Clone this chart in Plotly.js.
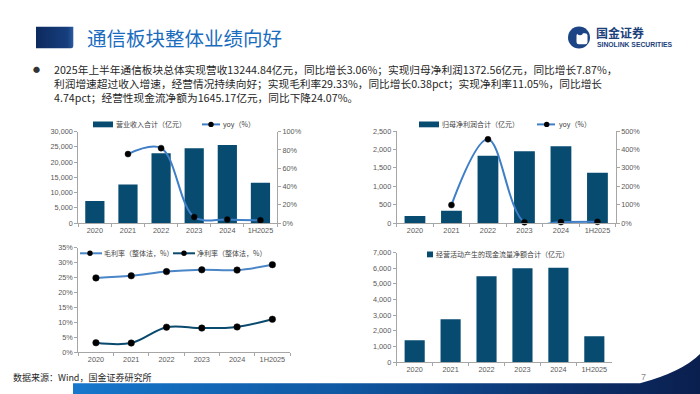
<!DOCTYPE html>
<html>
<head>
<meta charset="utf-8">
<script src="https://cdn.plot.ly/plotly-3.0.1.min.js"></script>
<style>
html,body{margin:0;padding:0;background:#fff;}
#chart{width:700px;height:394px;}
</style>
</head>
<body>
<div id="chart"></div>
<script>
// ---------- data ----------
const years = ['2020', '2021', '2022', '2023', '2024', '1H2025'];
const revenue = [7200, 12650, 22900, 24550, 25640, 13244.84];
const revenueYoy = [null, 75.5, 82, 6.5, 3.8, 3.06];
const profit = [199, 343, 1832, 1949, 2085, 1372.56];
const profitYoy = [null, 99, 455, 5.5, 6.5, 7.87];
const grossMargin = [24.9, 25.6, 27.0, 27.6, 27.5, 29.33];
const netMargin = [3.2, 3.1, 8.4, 8.1, 8.5, 11.05];
const cashFlow = [1387, 2732, 5485, 5997, 6040, 1645.17];

const titleText = '通信板块整体业绩向好';
const bodyLines = [
  '2025年上半年通信板块总体实现营收13244.84亿元，同比增长3.06%；实现归母净利润1372.56亿元，同比增长7.87%，',
  '利润增速超过收入增速，经营情况持续向好；实现毛利率29.33%，同比增长0.38pct；实现净利率11.05%，同比增长',
  '4.74pct；经营性现金流净额为1645.17亿元，同比下降24.07%。'
];
const legendRevenue = '营业收入合计（亿元）';
const legendProfit = '归母净利润合计（亿元）';
const legendYoy = 'yoy（%）';
const legendGross = '毛利率（整体法，%）';
const legendNet = '净利率（整体法，%）';
const legendCash = '经营活动产生的现金流量净额合计（亿元）';
const sourceText = '数据来源：Wind，国金证券研究所';

// ---------- styles ----------
const W = 700, H = 394;
const px = x => x / W;
const py = y => 1 - y / H;
const BAR = '#074b70';
const YOY = '#3f7fc8';
const GROSS = '#4a86c8';
const NET = '#0a4a6e';
const CJK = '"Noto Sans CJK SC", sans-serif';
const LAT = '"Liberation Sans", Arial, sans-serif';
const tickFont = {family: LAT, size: 7.3, color: '#595959'};

function lineTrace(y, xa, ya, color) {
  return {type: 'scatter', mode: 'lines', x: years, y: y, xaxis: xa, yaxis: ya,
    line: {color: color, width: 2, shape: 'spline', smoothing: 1}, connectgaps: false,
    hoverinfo: 'skip', showlegend: false};
}
function markerTrace(y, xa, ya, size) {
  return {type: 'scatter', mode: 'markers', x: years, y: y, xaxis: xa, yaxis: ya,
    marker: {color: '#000', size: size, line: {color: '#111', width: 0.5}},
    cliponaxis: false, hoverinfo: 'skip', showlegend: false};
}
function barTrace(y, xa, ya, w) {
  return {type: 'bar', x: years, y: y, xaxis: xa, yaxis: ya, width: w,
    marker: {color: BAR}, hoverinfo: 'skip', showlegend: false};
}

const data = [
  barTrace(revenue, 'x', 'y', 0.58),
  lineTrace(revenueYoy, 'x', 'y2', YOY),
  markerTrace(revenueYoy, 'x', 'y2', 6),
  barTrace(profit, 'x2', 'y3', 0.57),
  lineTrace(profitYoy, 'x2', 'y4', YOY),
  markerTrace(profitYoy, 'x2', 'y4', 6),
  lineTrace(grossMargin, 'x3', 'y5', GROSS),
  markerTrace(grossMargin, 'x3', 'y5', 6.5),
  lineTrace(netMargin, 'x3', 'y5', NET),
  markerTrace(netMargin, 'x3', 'y5', 6.5),
  barTrace(cashFlow, 'x4', 'y6', 0.56)
];

const axBase = {showline: true, linecolor: '#a6a6a6', linewidth: 1, showgrid: false, zeroline: false,
  ticks: 'outside', ticklen: 3, tickcolor: '#a6a6a6', tickfont: tickFont, fixedrange: true};
function xAx(d0, d1, anchor) {
  return Object.assign({}, axBase, {type: 'category', domain: [px(d0), px(d1)], anchor: anchor,
    range: [-0.5, 5.5], tickson: 'boundaries', tickangle: 0});
}
function yAx(top, bottom, anchor, range, dtick, extra) {
  return Object.assign({}, axBase, {domain: [py(bottom), py(top)], anchor: anchor,
    range: range, dtick: dtick, tick0: 0}, extra || {});
}

// ---------- manual legends & decorations ----------
const shapes = [];
const annotations = [];
function ann(text, x, y, size, color, family, xanchor) {
  annotations.push({text: text, x: px(x), y: py(y), xref: 'paper', yref: 'paper',
    xanchor: xanchor || 'left', yanchor: 'middle', showarrow: false, align: 'left', borderpad: 0,
    font: {size: size, color: color, family: family}});
}
function rectLeg(x0, x1, y0, y1, color) {
  shapes.push({type: 'rect', xref: 'paper', yref: 'paper', x0: px(x0), x1: px(x1), y0: py(y1), y1: py(y0),
    fillcolor: color, line: {width: 0}});
}
function lineLeg(x0, x1, y, color, mx) {
  shapes.push({type: 'line', xref: 'paper', yref: 'paper', x0: px(x0), x1: px(x1), y0: py(y), y1: py(y),
    line: {color: color, width: 2}});
  const r = 2.7;
  shapes.push({type: 'circle', xref: 'paper', yref: 'paper', x0: px(mx - r), x1: px(mx + r),
    y0: py(y + r), y1: py(y - r), fillcolor: '#000', line: {width: 0}});
}
const legC = '#404040';
// chart 1
rectLeg(93, 113, 121.5, 127.3, BAR);
ann(legendRevenue, 115, 124.4, 7, legC, CJK);
lineLeg(202, 220, 124.4, YOY, 211);
ann(legendYoy, 222, 124.4, 7, legC, CJK);
// chart 2
rectLeg(419, 439, 121.5, 127.3, BAR);
ann(legendProfit, 441, 124.4, 7, legC, CJK);
lineLeg(537, 555, 124.4, YOY, 546.7);
ann(legendYoy, 558, 124.4, 7, legC, CJK);
// chart 3
lineLeg(80, 102, 253.3, GROSS, 90);
ann(legendGross, 103, 253.3, 7, legC, CJK);
lineLeg(173, 195, 253.3, NET, 184);
ann(legendNet, 196, 253.3, 7, legC, CJK);
// chart 4
rectLeg(427, 433, 251.5, 257.3, BAR);
ann(legendCash, 435, 254.4, 7, legC, CJK);

// header and body text
ann(titleText, 86, 37, 19.5, '#1a6cbf', CJK);
ann('<b>国金证券</b>', 595, 32.3, 12, '#1d3f7c', CJK);
ann('<b>SINOLINK SECURITIES</b>', 595.5, 44.3, 6.8, '#1d3f7c', LAT);
ann('●', 36.7, 69.3, 7, '#333', CJK, 'center');
ann(bodyLines.join('<br>'), 53, 83.5, 10.7, '#262626', CJK);
ann(sourceText, 12, 377.5, 9, '#262626', CJK);
ann('7', 643, 376.5, 9, '#8c8c8c', LAT, 'center');

// decorative background (header block, bottom band, logo icon)
const svg = '<svg xmlns="http://www.w3.org/2000/svg" width="700" height="394" viewBox="0 0 700 394">' +
  '<defs>' +
  '<linearGradient id="g1" x1="0" y1="0" x2="1" y2="0"><stop offset="0" stop-color="#0c2a5e"/><stop offset="0.85" stop-color="#173f7e"/><stop offset="1" stop-color="#2c5ca2"/></linearGradient>' +
  '<linearGradient id="g2" x1="0" y1="0" x2="1" y2="0"><stop offset="0" stop-color="#1677cc"/><stop offset="0.45" stop-color="#0f56a0"/><stop offset="0.8" stop-color="#0b2f6a"/><stop offset="1" stop-color="#0a1f4e"/></linearGradient>' +
  '</defs>' +
  '<path d="M36,26.7 H73.3 V46 Q73.3,48.3 71,48.3 H36 Z" fill="url(#g1)"/>' +
  '<path d="M73,383.3 L640,383.3 Q682,372 700,354 L700,394 L73,394 Z" fill="url(#g2)"/>' +
  '<circle cx="579" cy="37.5" r="11" fill="#1d4585"/>' +
  '<rect x="576.5" y="33.3" width="11" height="11" rx="2.5" fill="#ffffff"/>' +
  '<circle cx="580" cy="32.2" r="3" fill="#1d4585"/>' +
  '</svg>';

const layout = {
  width: W, height: H,
  margin: {l: 0, r: 0, t: 0, b: 0, pad: 0},
  paper_bgcolor: '#fff', plot_bgcolor: 'rgba(0,0,0,0)',
  showlegend: false,
  font: {family: LAT, color: '#595959'},
  xaxis: xAx(78.3, 277, 'y'),
  yaxis: yAx(131.7, 223, 'x', [0, 30000], 5000, {tickformat: ',d'}),
  yaxis2: yAx(131.7, 223, 'x', [0, 100], 20, {overlaying: 'y', side: 'right', ticksuffix: '%'}),
  xaxis2: xAx(396.7, 615.7, 'y3'),
  yaxis3: yAx(131, 223.3, 'x2', [0, 2500], 500, {tickformat: ',d'}),
  yaxis4: yAx(131, 223.3, 'x2', [0, 500], 100, {overlaying: 'y3', side: 'right', ticksuffix: '%'}),
  xaxis3: xAx(78.3, 290, 'y5'),
  yaxis5: yAx(247.7, 352.3, 'x3', [0, 35], 5, {ticksuffix: '%'}),
  xaxis4: xAx(396.7, 612.3, 'y6'),
  yaxis6: yAx(252.7, 362, 'x4', [0, 7000], 1000, {tickformat: ',d'}),
  shapes: shapes,
  annotations: annotations,
  images: [{source: 'data:image/svg+xml;charset=utf-8,' + encodeURIComponent(svg),
    xref: 'paper', yref: 'paper', x: 0, y: 1, sizex: 1, sizey: 1,
    xanchor: 'left', yanchor: 'top', sizing: 'stretch', layer: 'below'}]
};

Plotly.newPlot('chart', data, layout, {staticPlot: true, displayModeBar: false});
</script>
</body>
</html>
